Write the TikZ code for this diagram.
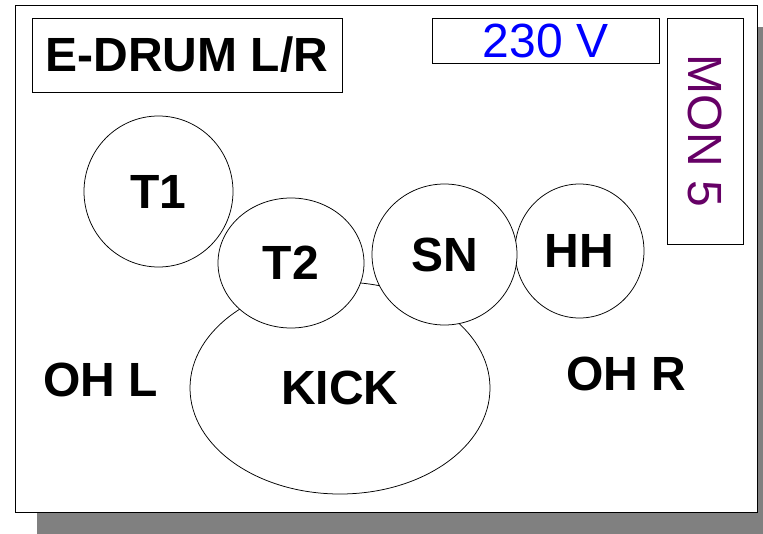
\documentclass[tikz,border=0pt]{standalone}
\usepackage{fontspec}
\setmainfont{Liberation Sans}
\usetikzlibrary{shapes.geometric}
\definecolor{monpurple}{HTML}{660066}
\definecolor{shadowgray}{HTML}{808080}
\definecolor{voltblue}{HTML}{0000FF}
\newcommand{\biglabel}{\fontsize{48}{58}\selectfont\bfseries}
\newcommand{\bigplain}{\fontsize{48}{58}\selectfont}
\begin{document}
\begin{tikzpicture}[x=1pt,y=-1pt,
  pad/.style={ellipse,draw,fill=white,line width=0.75pt,inner sep=0pt,font=\biglabel},
  labelbox/.style={draw,fill=white,line width=0.8pt,inner sep=0pt},
  floortext/.style={inner sep=0pt,font=\biglabel}]
\useasboundingbox (0,0) rectangle (763,533);
\fill[shadowgray] (37,27) rectangle (790,560);
\draw[fill=white,line width=0.8pt] (15,5) rectangle (757,512);
\node[labelbox,font=\biglabel,minimum width=310pt,minimum height=74pt] (title) at (187,55) {E-DRUM L/R};
\node[labelbox,font=\bigplain,text=voltblue,minimum width=227pt,minimum height=45pt] (volt) at (545.5,40.5) {230 V};
\node[labelbox,font=\bigplain,text=monpurple,minimum width=226pt,minimum height=76pt,rotate=-90] (mon) at (705,131) {MON 5};
\node[floortext] (ohl) at (100.5,380) {OH L};
\node[floortext] (ohr) at (626,374) {OH R};
\node[pad,minimum width=300pt,minimum height=212pt] (kick) at (340,388) {KICK};
\node[pad,minimum width=149pt,minimum height=151pt] (t1) at (158.5,191.5) {T1};
\node[pad,minimum width=146pt,minimum height=130pt] (t2) at (291,263) {T2};
\node[pad,minimum width=129pt,minimum height=134pt] (hh) at (579.5,251) {HH};
\node[pad,minimum width=145pt,minimum height=141pt] (sn) at (444.5,254.5) {SN};
\end{tikzpicture}
\end{document}
